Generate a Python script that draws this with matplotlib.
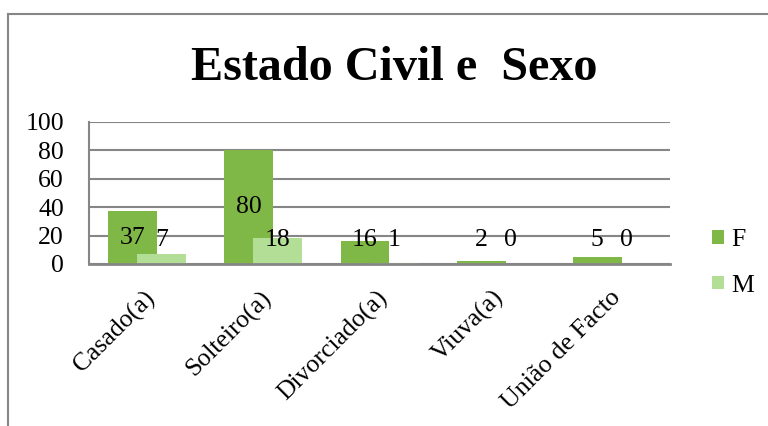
import matplotlib
matplotlib.use("Agg")
import matplotlib.pyplot as plt
import numpy as np
from matplotlib.lines import Line2D
from matplotlib.transforms import ScaledTranslation

categories = ["Casado(a)", "Solteiro(a)", "Divorciado(a)", "Viuva(a)", "União de Facto"]
series_F = [37, 80, 16, 2, 5]
series_M = [7, 18, 1, 0, 0]
yticks = [0, 20, 40, 60, 80, 100]

color_F = "#80B847"
color_M = "#B3DE95"
grid_color = "#868686"

plt.rcParams['font.family'] = ['Liberation Serif', 'DejaVu Serif']

fig = plt.figure(figsize=(7.68, 4.26), dpi=100)
ax = fig.add_axes([89/768, 1-264/426, (670-89)/768, (264-122)/426])

x = np.arange(len(categories))
w = 0.42
off = 0.125
ax.bar(x - off, series_F, width=w, color=color_F, label="F", zorder=3)
ax.bar(x + off, series_M, width=w, color=color_M, label="M", zorder=4)

for xi, v in zip(x, series_F):
    ax.text(xi - off, max(v / 2, 17), str(v), ha="center", va="center", fontsize=18.5, zorder=6)
for xi, v in zip(x, series_M):
    ax.text(xi + off, max(v / 2, 17), str(v), ha="center", va="center", fontsize=18.5, zorder=6)

ax.set_xlim(-0.5, len(categories) - 0.5)
ax.set_ylim(0, 100)
ax.set_yticks(yticks)
ax.set_yticklabels([str(t) for t in yticks], fontsize=18.5)
ax.yaxis.grid(True, color=grid_color, linewidth=1.5, zorder=1)
ax.set_axisbelow(True)
ax.tick_params(axis="y", length=0, pad=18)
ax.set_xticks(x)
ax.set_xticklabels(categories, rotation=45, ha="right", va="center",
                   rotation_mode="anchor", fontsize=18.5)
ax.tick_params(axis="x", length=0, pad=22)
shift = ScaledTranslation(5/100, 0, fig.dpi_scale_trans)
for lab in ax.get_xticklabels():
    lab.set_transform(lab.get_transform() + shift)

for s in ["top", "right"]:
    ax.spines[s].set_visible(False)
ax.spines["left"].set_color(grid_color)
ax.spines["left"].set_linewidth(1.5)
ax.spines["bottom"].set_color(grid_color)
ax.spines["bottom"].set_linewidth(2)
ax.spines["bottom"].set_zorder(5)

fig.text(394/768, 1-80/426, "Estado Civil e  Sexo", ha="center", va="baseline",
         fontsize=34.7, fontweight="bold")

leg = fig.legend(loc="center left", bbox_to_anchor=(712/768, 1-263/426), frameon=False,
                 fontsize=18.5, handlelength=0.45, handleheight=0.45, handletextpad=0.3,
                 labelspacing=0.9, borderpad=0, borderaxespad=0)

# outer frame lines (top and left)
fig.add_artist(Line2D([8/768, 1], [1-14/426, 1-14/426], transform=fig.transFigure,
                      color=grid_color, linewidth=1.5))
fig.add_artist(Line2D([8/768, 8/768], [0, 1-14/426], transform=fig.transFigure,
                      color=grid_color, linewidth=1.5))

fig.savefig("out.png", dpi=100)
